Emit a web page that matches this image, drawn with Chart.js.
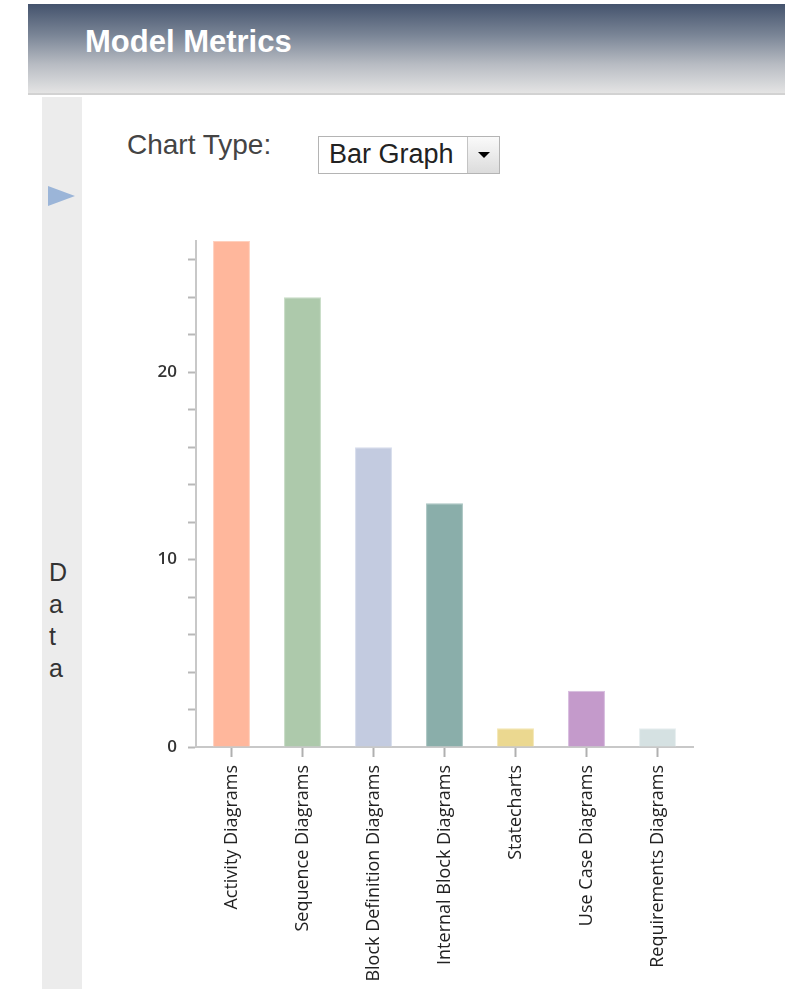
<!DOCTYPE html>
<html>
<head>
<meta charset="utf-8">
<title>Model Metrics</title>
<script src="https://cdn.jsdelivr.net/npm/chart.js@4.4.1/dist/chart.umd.min.js"></script>
<style>
  body { margin: 0; background: #fff; font-family: Arial, "Liberation Sans", sans-serif; width: 785px; height: 989px; overflow: hidden; position: relative; }
  .header {
    position: absolute; left: 28px; top: 4px; width: 757px; height: 89px;
    background: linear-gradient(#44536d 0%, #7a8596 35%, #b8bcc3 68%, #e4e4e4 100%);
    border-bottom: 2px solid #d2d2d2;
  }
  .header h1 { margin: 0; position: absolute; left: 57px; top: 20px; color: #fff; font-size: 31px; font-weight: bold; letter-spacing: 0px; }
  .sidebar { position: absolute; left: 42px; top: 97px; width: 40px; height: 892px; background: #ececec; }
  .arrow { position: absolute; left: 6px; top: 89px; width: 0; height: 0; border-left: 27px solid #9bb5d8; border-top: 10px solid transparent; border-bottom: 10px solid transparent; }
  .data-label { position: absolute; left: 7px; top: 459px; font-size: 25px; line-height: 32px; color: #333; }
  .chart-type { position: absolute; left: 127px; top: 129px; font-size: 28px; color: #444; }
  .select { position: absolute; left: 318px; top: 136px; width: 180px; height: 36px; border: 1px solid #b4b4b4; background: #fff; }
  .select span { position: absolute; left: 10px; top: 2px; font-size: 27px; color: #222; }
  .select .btn { position: absolute; right: 0; top: 0; width: 31px; height: 36px; border-left: 1px solid #c4c4c4; background: linear-gradient(#fafafa, #dcdcdc); }
  .select .btn:after { content: ""; position: absolute; left: 10px; top: 15px; border-top: 6px solid #000; border-left: 6px solid transparent; border-right: 6px solid transparent; }
  .chart-box { position: absolute; left: 100px; top: 225px; width: 620px; height: 764px; }
</style>
</head>
<body>
<div class="header"><h1>Model Metrics</h1></div>
<div class="sidebar">
  <div class="arrow"></div>
  <div class="data-label">D<br>a<br>t<br>a</div>
</div>
<div class="chart-type">Chart Type:</div>
<div class="select"><span>Bar Graph</span><div class="btn"></div></div>
<div class="chart-box"><canvas id="barChart"></canvas></div>

<script>
const categories = [
  'Activity Diagrams', 'Sequence Diagrams', 'Block Definition Diagrams',
  'Internal Block Diagrams', 'Statecharts', 'Use Case Diagrams', 'Requirements Diagrams'
];
const diagramCounts = [27, 24, 16, 13, 1, 3, 1];
const barColors = ['#ffb79c', '#adc9ab', '#c3cbe0', '#8aaeaa', '#ebd890', '#c49acb', '#d5e1e2'];
const barEdges = ['#ffd0bd', '#c6dbc4', '#d6dcec', '#a9c4c1', '#f3e6b4', '#d6bade', '#e6eeef'];
const yLabelTicks = [0, 10, 20];
const yMax = 27;

const ctx = document.getElementById('barChart').getContext('2d');

new Chart(ctx, {
  type: 'bar',
  data: {
    labels: categories,
    datasets: [{
      data: diagramCounts,
      backgroundColor: barColors,
      borderColor: barEdges,
      borderWidth: 1,
      categoryPercentage: 1,
      barPercentage: 0.52
    }]
  },
  options: {
    responsive: true,
    maintainAspectRatio: false,
    animation: false,
    layout: { padding: { top: 16, right: 27, left: 0, bottom: 0 } },
    plugins: {
      legend: { display: false },
      tooltip: { enabled: false }
    },
    scales: {
      x: {
        grid: { offset: false, drawOnChartArea: false, tickLength: 10, tickColor: '#b0b0b0', tickWidth: 2 },
        border: { color: '#c8c8c8', width: 2 },
        ticks: {
          minRotation: 90, maxRotation: 90, padding: 8, color: '#222',
          font: { family: '"Open Sans", sans-serif', size: 18 }
        },
        afterFit: function (scale) {
          scale.height = 242;
          scale.paddingLeft = 0;
          scale.paddingRight = 0;
        }
      },
      y: {
        min: 0,
        max: yMax,
        grid: { drawOnChartArea: false, tickLength: 8, tickColor: '#b8b8b8', tickWidth: 2 },
        border: { color: '#c8c8c8', width: 2 },
        ticks: {
          stepSize: 1, padding: 11, color: '#333',
          font: { family: '"Open Sans", sans-serif', size: 17, weight: '600' },
          callback: function (value) {
            return yLabelTicks.includes(value) ? value : '';
          }
        },
        afterFit: function (scale) {
          scale.width = 96;
          scale.paddingTop = 0;
          scale.paddingBottom = 0;
        }
      }
    }
  }
});
</script>
</body>
</html>
